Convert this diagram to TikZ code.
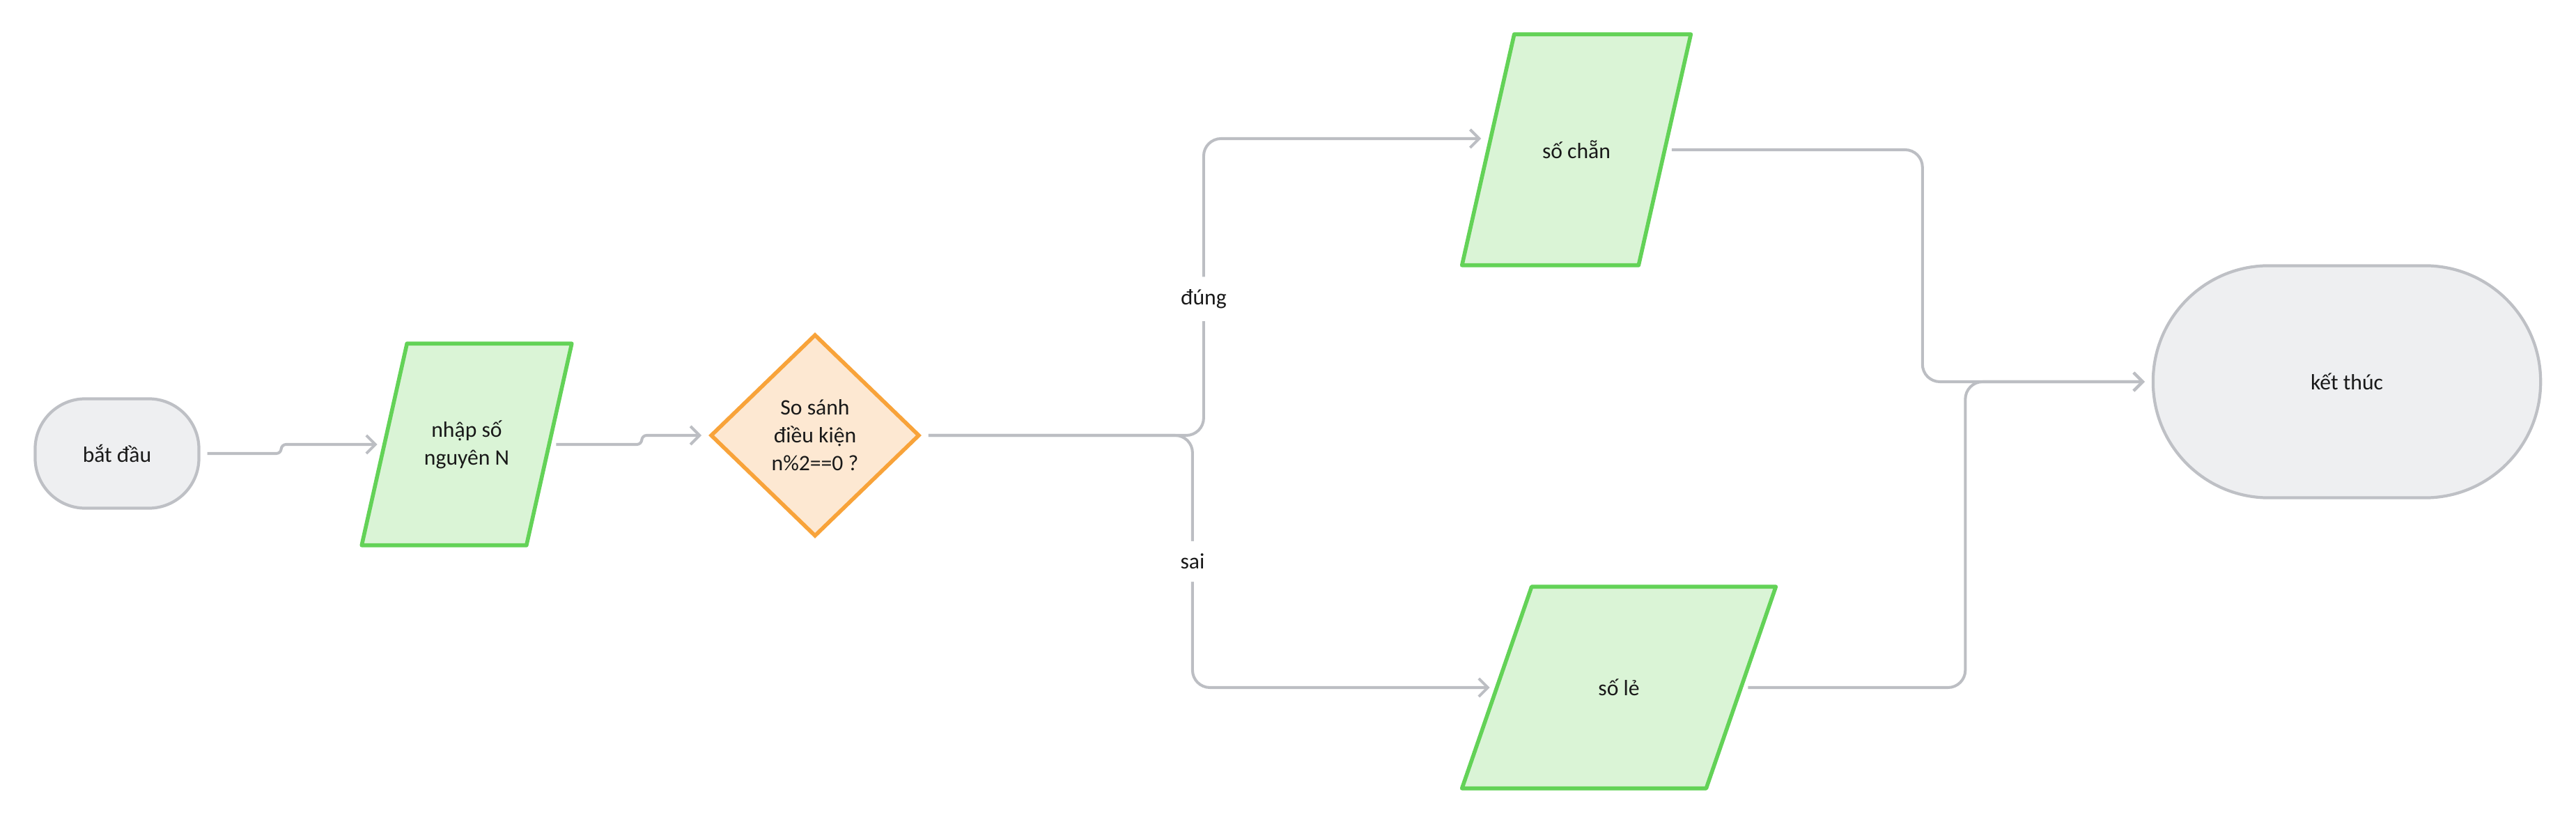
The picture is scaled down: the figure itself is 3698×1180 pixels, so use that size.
\documentclass[tikz,border=0pt]{standalone}
\usepackage{fontspec}
\setmainfont{Carlito}
\usetikzlibrary{shapes.geometric,arrows.meta,backgrounds}
\definecolor{linegray}{RGB}{188,190,195}
\definecolor{iogreen}{RGB}{99,210,87}
\definecolor{iofill}{RGB}{218,244,214}
\definecolor{decorange}{RGB}{248,163,58}
\definecolor{decfill}{RGB}{253,232,210}
\definecolor{termgray}{RGB}{190,192,197}
\definecolor{termfill}{RGB}{238,239,241}
\definecolor{inktext}{RGB}{25,25,25}
\begin{document}
\begin{tikzpicture}[x=0.01cm, y=0.01cm]
			\tikzstyle{every node}+=[font=\fontsize{9}{11.4}\selectfont, text=inktext, align=center]
			\tikzstyle{term}=[draw=termgray, fill=termfill, line width=1.2pt]
			\tikzstyle{io}=[rectangle, inner sep=0pt]
			\tikzstyle{ioshape}=[draw=iogreen, fill=iofill, line width=1.6pt, line join=round]
			\tikzstyle{decision}=[diamond, draw=decorange, fill=decfill, line width=1.6pt, inner sep=0pt]
			\tikzstyle{flow}=[draw=linegray, line width=1.15pt, rounded corners=0.25cm, shorten <=0.1cm, shorten >=0.1cm, -{Straight Barb[length=0.13cm, width=0.26cm]}]
			\tikzstyle{lbl}=[fill=white, inner xsep=0.05cm, inner ysep=0.18cm]
			\useasboundingbox (0,0) rectangle (3698,-1180);
			\node [term, rounded corners=0.72cm, minimum width=2.35cm, minimum height=1.57cm] (start) at (168,-651) {bắt đầu};
			\node [io, minimum width=2.35cm, minimum height=2.88cm] (input) at (670,-638) {nhập số\\nguyên N};
			\node [decision, minimum width=3cm, minimum height=2.9cm] (dec) at (1170,-625) {So sánh\\điều kiện\\n\%2==0 ?};
			\node [io, minimum width=2.52cm, minimum height=3.3cm] (even) at (2263,-215) {số chẵn};
			\node [io, minimum width=3.49cm, minimum height=2.88cm] (odd) at (2324,-987) {số lẻ};
			\node [term, rounded corners=1.66cm, minimum width=5.56cm, minimum height=3.33cm] (end) at (3369,-548) {kết thúc};
			\begin{pgfonlayer}{background}
				\foreach \n/\s in {input/32.5, even/37.5, odd/50}
					\draw [ioshape] ([xshift=\s*0.01cm]\n.north west) -- ([xshift=\s*0.01cm]\n.north east) -- ([xshift=-\s*0.01cm]\n.south east) -- ([xshift=-\s*0.01cm]\n.south west) -- cycle;
			\end{pgfonlayer}
			\draw [flow, rounded corners=0.07cm] (start.east) -- ++(116,0) |- (input.west);
			\draw [flow, rounded corners=0.07cm] (input.east) -- ++(133,0) |- (dec.west);
			\draw [flow] (dec.east) -- ++(405,0) |- ([yshift=0.16cm]even.west) node [lbl, pos=0.23] {đúng};
			\draw [flow] (dec.east) -- ++(389,0) |- (odd.west) node [lbl, pos=0.25] {sai};
			\draw [flow] (even.east) -- ++(370,0) |- (end.west);
			\draw [flow] (odd.east) -- ++(322,0) |- (end.west);
		\end{tikzpicture}
\end{document}
